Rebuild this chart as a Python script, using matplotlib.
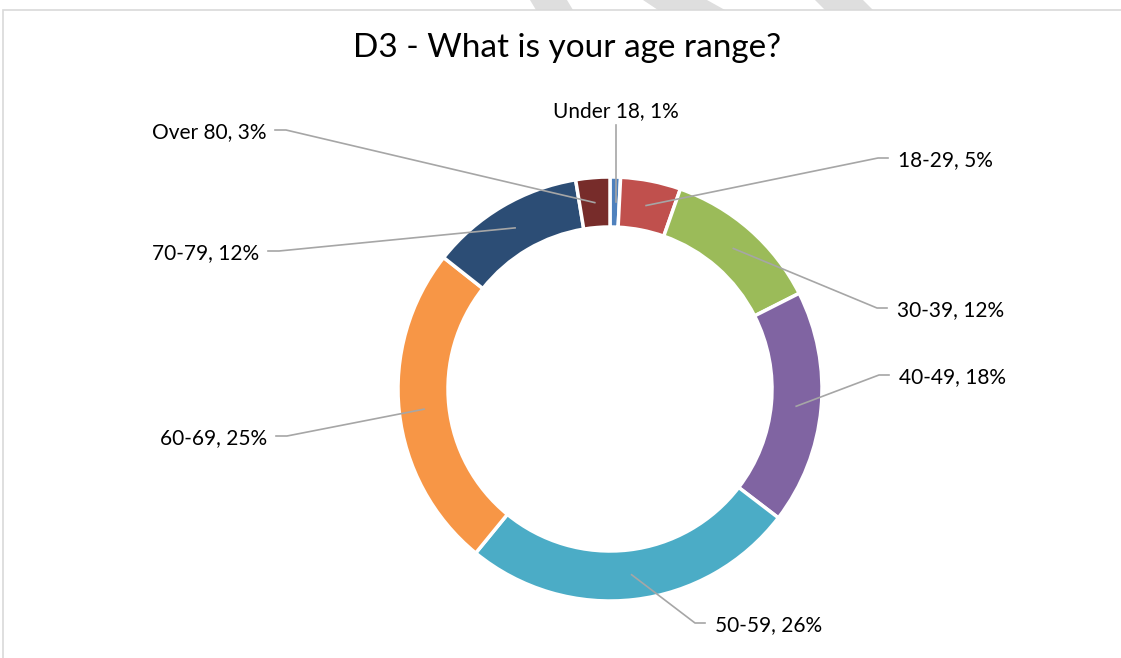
import matplotlib.pyplot as plt
import numpy as np
from matplotlib.patches import Polygon, Rectangle

plt.rcParams['font.family'] = ['Lato', 'DejaVu Sans']

# data (percent of respondents)
age_groups = ['Under 18', '18-29', '30-39', '40-49', '50-59', '60-69', '70-79', 'Over 80']
shares = [0.8, 4.6, 12.2, 17.9, 25.6, 24.8, 11.8, 2.6]
colors = ['#4F81BD', '#C0504D', '#9BBB59', '#8064A2', '#4BACC6', '#F79646', '#2C4D75', '#772C2A']

# label placement (pixel layout, y measured from bottom): x, y, side
label_pos = [(616, 547, 'center'), (898, 498, 'left'), (897, 348, 'left'), (899, 281, 'left'),
             (715, 33, 'left'), (267, 220, 'right'), (259, 405, 'right'), (266, 526, 'right')]

W, H = 1121, 658
fig = plt.figure(figsize=(W / 100, H / 100), dpi=100)
ax = fig.add_axes([0, 0, 1, 1])

cx, cy, R, ring = 610, 269, 212, 50
wedges, _ = ax.pie(shares, colors=colors, startangle=90, counterclock=False,
                   center=(cx, cy), radius=R,
                   wedgeprops=dict(width=ring, edgecolor='white', linewidth=2.5))
ax.set_xlim(0, W)
ax.set_ylim(0, H)
ax.set_aspect('equal')
ax.axis('off')

# watermark stripes peeking above the chart frame
for pts in [[(530, H), (567, H), (573, H - 10), (536, H - 10)],
            [(643, H), (707, H), (725, H - 10), (658, H - 10)],
            [(815, H), (863, H), (873, H - 10), (825, H - 10)]]:
    ax.add_patch(Polygon(pts, closed=True, color='#dedede', lw=0, zorder=0))

# chart frame
ax.add_patch(Rectangle((3, -10), W + 20, H, fill=False, ec='#d9d9d9', lw=1.2, zorder=1))

ax.text(567, 610, 'D3 - What is your age range?', ha='center', va='center', fontsize=24, color='#000000')

# data labels with leader lines
total = sum(shares)
start = 90.0
line_c = '#a6a6a6'
for name, val, (lx, ly, side), w in zip(age_groups, shares, label_pos, wedges):
    mid = np.deg2rad(start - val / total * 360 / 2)
    start -= val / total * 360
    r_mid = R - ring / 2
    ax_, ay_ = cx + r_mid * np.cos(mid), cy + r_mid * np.sin(mid)
    txt = f'{name}, {round(val)}%'
    if side == 'center':
        ax.plot([lx, lx], [ly - 14, ay_], color=line_c, lw=1.2)
    elif side == 'left':
        ax.plot([ax_, lx - 20, lx - 10], [ay_, ly + 2, ly + 2], color=line_c, lw=1.2)
    else:
        ax.plot([ax_, lx + 20, lx + 9], [ay_, ly + 2, ly + 2], color=line_c, lw=1.2)
    ax.text(lx, ly, txt, ha=side, va='center', fontsize=15, color='#000000')

fig.savefig('out.png', dpi=100, facecolor='white')
